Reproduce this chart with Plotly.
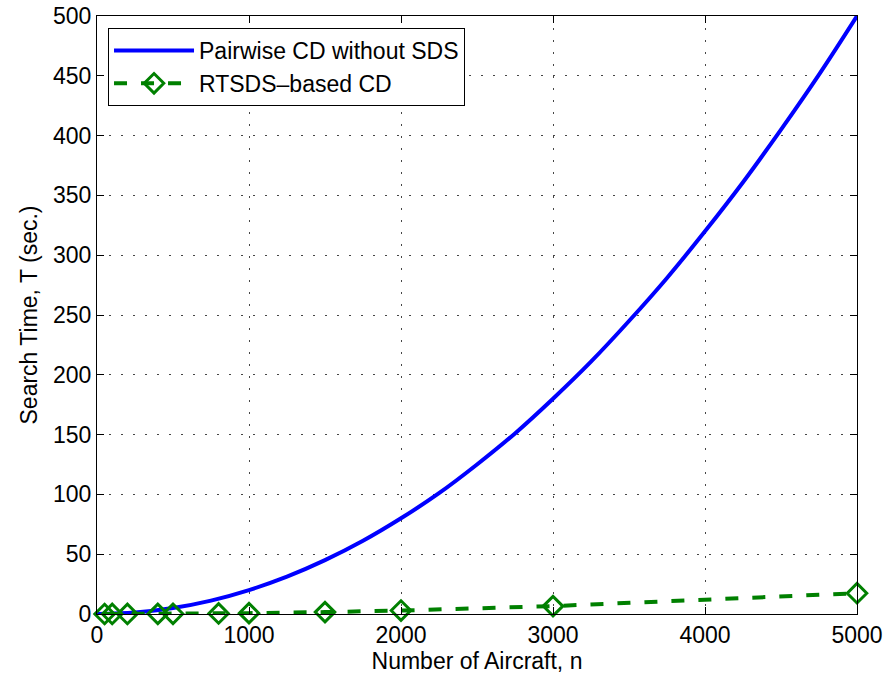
import plotly.graph_objects as go

# Pairwise CD without SDS
n_pair = [0, 250, 500, 750, 1000, 1250, 1500, 1750, 2000, 2250, 2500, 2750,
          3000, 3250, 3500, 3750, 4000, 4250, 4500, 4750, 5000]
t_pair = [0, 1.2, 5, 11.2, 20, 31.2, 45, 61.2, 80, 101, 125, 151,
          180, 211, 245, 281, 320, 361, 405, 451, 500]

# RTSDS-based CD
n_rt = [50, 100, 200, 400, 500, 800, 1000, 1500, 2000, 3000, 5000]
t_rt = [0.0, 0.01, 0.03, 0.11, 0.18, 0.45, 0.7, 1.6, 2.9, 6.6, 17.4]

x_ticks = [0, 1000, 2000, 3000, 4000, 5000]
y_ticks = [0, 50, 100, 150, 200, 250, 300, 350, 400, 450, 500]

font_family = "Liberation Sans, Arial, Helvetica, sans-serif"
FS = 23

fig = go.Figure()
fig.add_trace(go.Scatter(
    x=n_pair, y=t_pair, mode="lines", name="Pairwise CD without SDS",
    line=dict(color="rgb(0,0,255)", width=4, shape="spline"),
))
fig.add_trace(go.Scatter(
    x=n_rt, y=t_rt, mode="lines+markers", name="RTSDS\u2013based CD",
    line=dict(color="rgb(0,128,0)", width=4, dash="13px,14px"),
    marker=dict(symbol="diamond-open", size=15,
                color="rgb(0,128,0)", line=dict(width=3, color="rgb(0,128,0)")),
    cliponaxis=False,
))

axis_common = dict(
    showline=True, linecolor="black", linewidth=1, mirror="ticks",
    ticks="inside", ticklen=7, tickcolor="black", tickwidth=1,
    showgrid=True, gridcolor="rgb(70,70,70)", griddash="2px,10px", gridwidth=1,
    zeroline=False, automargin=False, ticklabeloverflow="allow",
    tickfont=dict(family=font_family, size=FS, color="black"),
)

fig.update_layout(
    width=889, height=676,
    paper_bgcolor="white", plot_bgcolor="white",
    margin=dict(l=97, r=32, t=16, b=62, autoexpand=False),
    font=dict(family=font_family, size=FS, color="black"),
    xaxis=dict(range=[0, 5000], tickvals=x_ticks,
               title=dict(text="Number of Aircraft, n", standoff=2,
                          font=dict(family=font_family, size=FS)),
               **axis_common),
    yaxis=dict(range=[0, 500], tickvals=y_ticks,
               title=dict(text="Search Time, T (sec.)", standoff=8,
                          font=dict(family=font_family, size=FS)),
               **axis_common),
    legend=dict(x=0.0145, y=0.98, xanchor="left", yanchor="top",
                bgcolor="white", bordercolor="black", borderwidth=1,
                font=dict(family=font_family, size=FS),
                itemwidth=80, tracegroupgap=0),
    showlegend=True,
    hovermode=False,
)

fig.write_html("out.html",
               config={"displayModeBar": False, "staticPlot": True},
               post_script="document.body.style.margin='0';document.body.style.overflow='hidden';")
